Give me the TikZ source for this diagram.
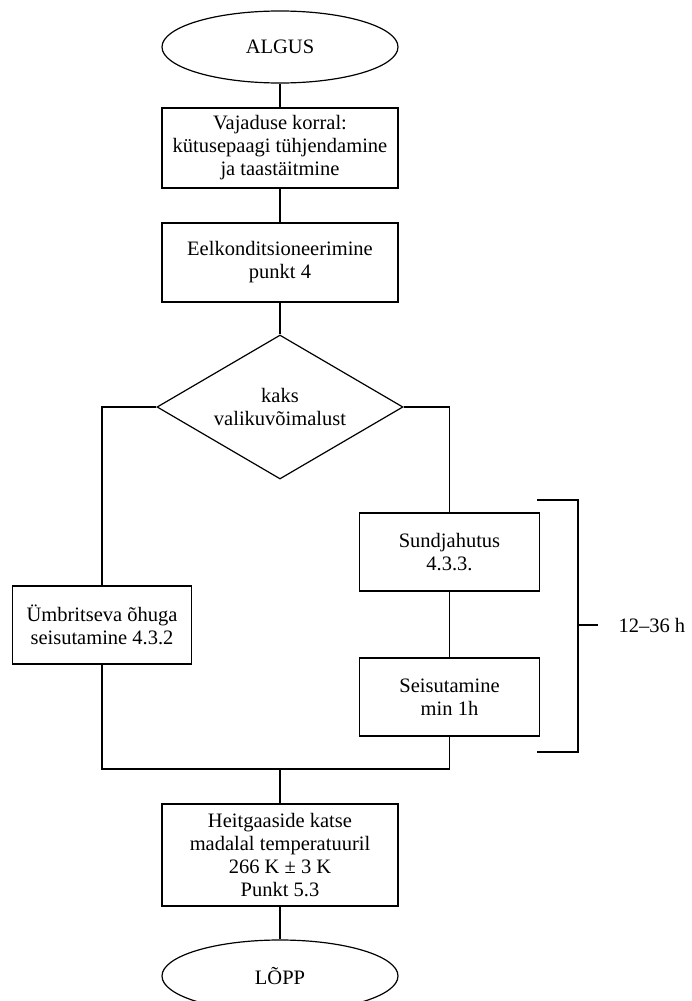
\documentclass[tikz,border=0pt]{standalone}
\usepackage{fontspec}
\setmainfont{Liberation Serif}
\usetikzlibrary{shapes.geometric}

\begin{document}
\begin{tikzpicture}[x=1pt,y=-1pt,line width=1.2pt,
  font=\fontsize{20.5}{23}\selectfont,
  every node/.append style={align=center},
  otsak/.style={ellipse,draw,minimum width=236,minimum height=72,inner sep=0},
  kast/.style={rectangle,draw,minimum width=236,inner sep=0},
  valikud/.style={diamond,draw,aspect=1.7,minimum width=246,minimum height=144,inner sep=0}]
  \useasboundingbox (0,0) rectangle (691,1001);
  \clip (0,0) rectangle (691,1001);
  % main column
  \node[otsak] (algus) at (280,47) {ALGUS};
  \node[kast,minimum height=80] (korral) at (280,148) {Vajaduse korral:\\kütusepaagi tühjendamine\\ja taastäitmine};
  \node[kast,minimum height=79] (eelkond) at (280,262.5) {Eelkonditsioneerimine\\punkt 4};
  \node[valikud] (valik) at (280,407) {kaks\\valikuvõimalust};
  % branches
  \node[kast,minimum width=179,minimum height=78] (ymbr) at (102,625) {Ümbritseva õhuga\\seisutamine 4.3.2};
  \node[kast,minimum width=180,minimum height=78] (sund) at (449.5,552) {Sundjahutus\\4.3.3.};
  \node[kast,minimum width=180,minimum height=78] (seis) at (449.5,697) {Seisutamine\\min 1h};
  % end
  \node[kast,minimum height=102] (heitg) at (280,855) {Heitgaaside katse\\madalal temperatuuril\\266 K ± 3 K\\Punkt 5.3};
  \node[otsak] (lopp) at (280,976) {LÕPP};
  % connectors
  \draw (algus) -- (korral);
  \draw (korral) -- (eelkond);
  \draw (eelkond) -- (valik);
  \draw (valik.west) -| (ymbr.north);
  \draw (valik.east) -| (sund.north);
  \draw (sund) -- (seis);
  \coordinate (liit) at (280,769);
  \draw (ymbr.south) |- (liit) -| (seis.south);
  \draw (liit) -- (heitg);
  \draw (heitg) -- (lopp);
  % time bracket
  \draw (537,500) -| (578,752) -- (537,752);
  \draw (578,625) -- (598,625);
  \node[anchor=west,inner sep=0] (kestus) at (618,625) {12--36 h};
\end{tikzpicture}
\end{document}
